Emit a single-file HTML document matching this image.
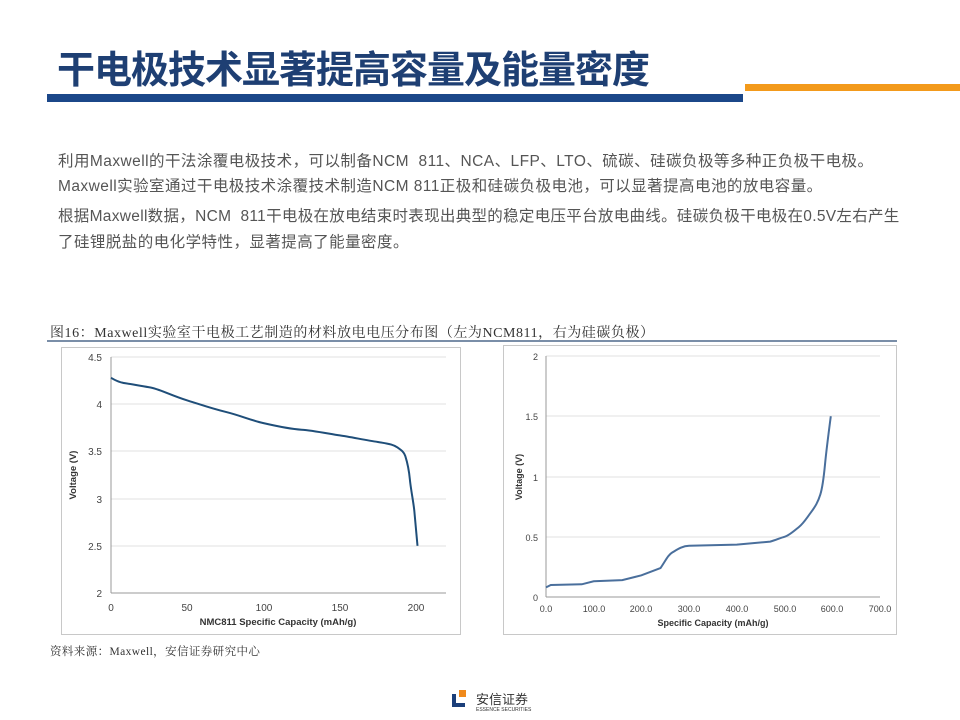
<!DOCTYPE html>
<html><head><meta charset="utf-8"><style>
body{margin:0;width:960px;height:720px;background:#fff;position:relative;overflow:hidden;font-family:"Liberation Sans","Noto Sans CJK SC",sans-serif}
.t{position:absolute;left:57px;top:39px;font-size:38px;font-weight:bold;color:#1e3f73;letter-spacing:-1px;white-space:nowrap}
.p{position:absolute;left:58px;font-size:15.5px;letter-spacing:0.45px;color:#555;white-space:nowrap}
</style></head><body>
<div class="t">干电极技术显著提高容量及能量密度</div>
<div style="position:absolute;left:47px;top:94px;width:696px;height:8px;background:#1b4789"></div>
<div style="position:absolute;left:745px;top:84px;width:215px;height:7px;background:#f39a1b"></div>
<div class="p" style="top:149px">利用Maxwell的干法涂覆电极技术，可以制备NCM&nbsp; 811、NCA、LFP、LTO、硫碳、硅碳负极等多种正负极干电极。</div>
<div class="p" style="top:174px">Maxwell实验室通过干电极技术涂覆技术制造NCM 811正极和硅碳负极电池，可以显著提高电池的放电容量。</div>
<div class="p" style="top:204px;letter-spacing:0.3px">根据Maxwell数据，NCM&nbsp; 811干电极在放电结束时表现出典型的稳定电压平台放电曲线。硅碳负极干电极在0.5V左右产生</div>
<div class="p" style="top:230px">了硅锂脱盐的电化学特性，显著提高了能量密度。</div>
<div style="position:absolute;left:50px;top:322px;font-size:14px;letter-spacing:0.55px;color:#333;font-family:'Liberation Serif','Noto Serif CJK SC',serif;white-space:nowrap">图16：Maxwell实验室干电极工艺制造的材料放电电压分布图（左为NCM811，右为硅碳负极）</div>
<div style="position:absolute;left:47px;top:340px;width:850px;height:2px;background:#7a8ea8"></div>
<svg style="position:absolute;left:0;top:0" width="960" height="720" font-family="Liberation Sans,sans-serif">
<rect x="61.5" y="347.5" width="399" height="287" fill="none" stroke="#c8c8c8"/>
<g stroke="#e0e0e0"><line x1="111" x2="446" y1="357" y2="357"/><line x1="111" x2="446" y1="404" y2="404"/><line x1="111" x2="446" y1="451" y2="451"/><line x1="111" x2="446" y1="499" y2="499"/><line x1="111" x2="446" y1="546" y2="546"/></g>
<line x1="111" x2="446" y1="593" y2="593" stroke="#999"/><line x1="111" x2="111" y1="357" y2="593" stroke="#999"/>
<g font-size="10" fill="#444" text-anchor="end"><text x="102" y="361">4.5</text><text x="102" y="408">4</text><text x="102" y="455">3.5</text><text x="102" y="503">3</text><text x="102" y="550">2.5</text><text x="102" y="597">2</text></g>
<g font-size="10" fill="#444" text-anchor="middle"><text x="111" y="611">0</text><text x="187" y="611">50</text><text x="264" y="611">100</text><text x="340" y="611">150</text><text x="416" y="611">200</text></g>
<text x="278" y="625" font-size="9.5" font-weight="bold" fill="#333" text-anchor="middle">NMC811 Specific Capacity (mAh/g)</text>
<text transform="translate(76,475) rotate(-90)" font-size="9.5" font-weight="bold" fill="#333" text-anchor="middle">Voltage (V)</text>
<path d="M111,377.8 C118,382 122,383 126.3,383.4 S140,386 149.1,387.2 S170,395 187.3,400.4 S210,408 225.4,411.8 S250,420 263.5,423.1 S290,429 301.6,429.7 S330,434 339.8,435.4 S365,440 377.9,442 S394,445 397.7,447.6 S404,452 405.3,456.1 S409,470 409.9,479.7 S414,505 414.5,512.8 L417.5,545.8" fill="none" stroke="#1f4e79" stroke-width="2"/>
<rect x="503.5" y="345.5" width="393" height="289" fill="none" stroke="#c8c8c8"/>
<g stroke="#e0e0e0"><line x1="546" x2="880" y1="356" y2="356"/><line x1="546" x2="880" y1="416" y2="416"/><line x1="546" x2="880" y1="477" y2="477"/><line x1="546" x2="880" y1="537" y2="537"/></g>
<line x1="546" x2="880" y1="597" y2="597" stroke="#999"/><line x1="546" x2="546" y1="356" y2="597" stroke="#999"/>
<g font-size="9" fill="#444" text-anchor="end"><text x="538" y="360">2</text><text x="538" y="420">1.5</text><text x="538" y="481">1</text><text x="538" y="541">0.5</text><text x="538" y="601">0</text></g>
<g font-size="9" fill="#444" text-anchor="middle"><text x="546" y="612">0.0</text><text x="594" y="612">100.0</text><text x="641" y="612">200.0</text><text x="689" y="612">300.0</text><text x="737" y="612">400.0</text><text x="785" y="612">500.0</text><text x="832" y="612">600.0</text><text x="880" y="612">700.0</text></g>
<text x="713" y="626" font-size="9" font-weight="bold" fill="#333" text-anchor="middle">Specific Capacity (mAh/g)</text>
<text transform="translate(522,477) rotate(-90)" font-size="9" font-weight="bold" fill="#333" text-anchor="middle">Voltage (V)</text>
<path d="M546,587.4 L550.8,585 L581.8,584.3 L593.7,581.3 L622.3,580.1 L641.4,575.3 L660.5,568.1 C666,560 668,555 672.4,552.4 S682,546 689.1,545.8 L736.8,544.6 L770.2,541.6 C776,540 780,538 784.5,536.8 S794,531 798.8,527.1 S806,519 810.7,512.7 S818,502 820.3,494.6 S824,475 825,464.5 S829,430 830.8,416.3" fill="none" stroke="#4a6f9c" stroke-width="2"/>
</svg>
<div style="position:absolute;left:50px;top:643px;font-size:11.5px;letter-spacing:0.4px;color:#333;font-family:'Liberation Serif','Noto Serif CJK SC',serif;white-space:nowrap">资料来源：Maxwell，安信证券研究中心</div>
<div style="position:absolute;left:452px;top:694px;width:9px;height:9px;border-left:4px solid #1b3f7a;border-bottom:4px solid #1b3f7a"></div>
<div style="position:absolute;left:459px;top:690px;width:7px;height:7px;background:#f08a1c"></div>
<div style="position:absolute;left:476px;top:689px;font-size:13px;color:#333;font-family:'Noto Sans CJK SC',sans-serif">安信证券</div>
<div style="position:absolute;left:476px;top:707px;font-size:5px;color:#333">ESSENCE SECURITIES</div>
</body></html>
